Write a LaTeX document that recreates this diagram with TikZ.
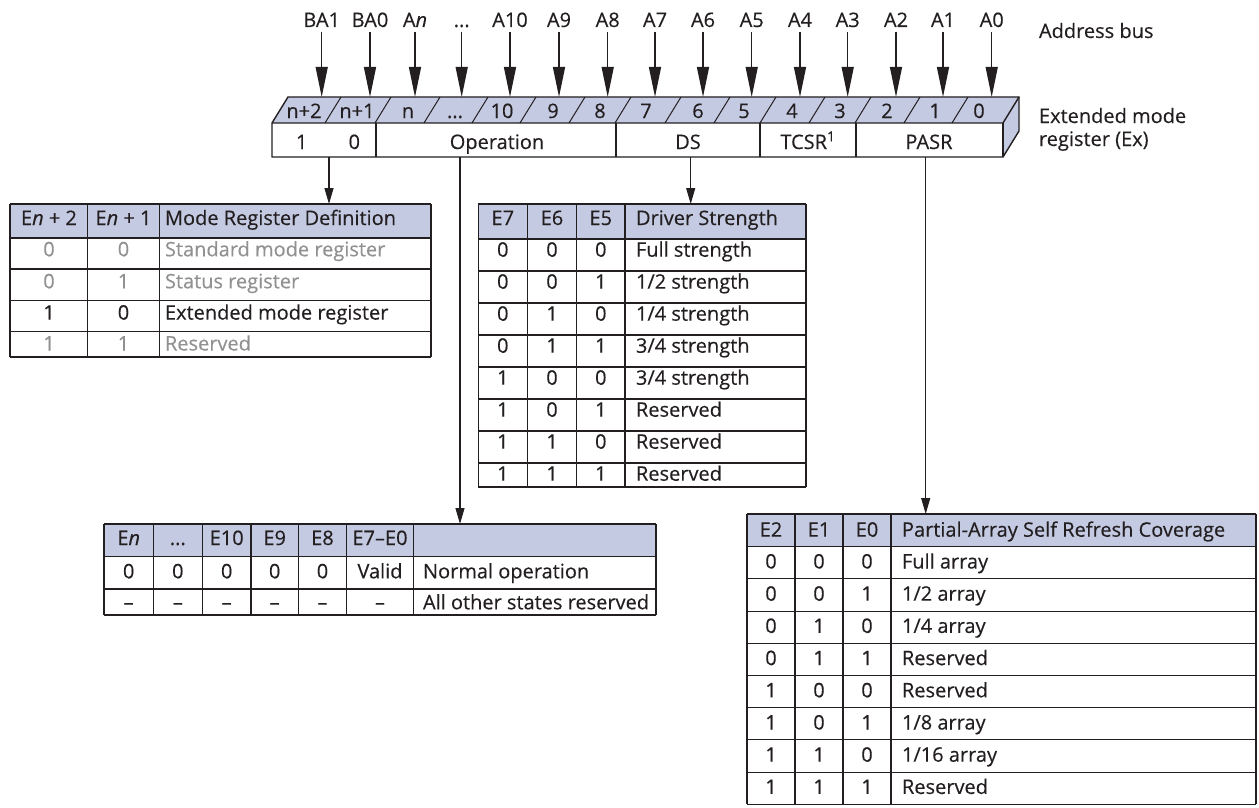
\documentclass[tikz,border=0pt]{standalone}
\usepackage{fontspec}
\setmainfont{Open Sans}[FakeBold=0.3]
\usetikzlibrary{arrows.meta}
\definecolor{hdr}{RGB}{196,202,226}
\definecolor{ink}{RGB}{35,31,32}
\definecolor{gtxt}{RGB}{145,145,145}
\begin{document}
\begin{tikzpicture}[x=1pt,y=-1pt,
  every node/.style={font=\fontsize{20}{24}\selectfont, inner sep=0pt, outer sep=0pt, text=ink},
  ctr/.style={anchor=base},
  lft/.style={anchor=base west},
  gry/.style={text=gtxt},
  bus/.style={draw=ink, line width=1.3pt, -{Triangle[length=30pt,width=12pt]}},
  dn/.style={draw=ink, line width=1.1pt, -{Triangle[length=16pt,width=9pt]}},
  tl/.style={draw=ink, line width=1.1pt},
  rg/.style={draw=ink, line width=1.4pt, line join=miter},
  sl/.style={draw=ink, line width=1pt}]
\useasboundingbox (0,0) rectangle (1259,808);

% ---------- address bus labels ----------
\node[ctr] (b0) at (321.7,27) {BA1};
\node[ctr] (b1) at (370,27) {BA0};
\node[ctr] (b2) at (415,27) {A\textit{n}};
\node[ctr] (b3) at (461.7,27) {...};
\node[ctr] (b4) at (510,27) {A10};
\node[ctr] (b5) at (559,27) {A9};
\node[ctr] (b6) at (607.7,27) {A8};
\node[ctr] (b7) at (655,27) {A7};
\node[ctr] (b8) at (703,27) {A6};
\node[ctr] (b9) at (751.7,27) {A5};
\node[ctr] (b10) at (800,27) {A4};
\node[ctr] (b11) at (847.7,27) {A3};
\node[ctr] (b12) at (896,27) {A2};
\node[ctr] (b13) at (943,27) {A1};
\node[ctr] (b14) at (991.7,27) {A0};
\node[lft] (abus) at (1039,38) {Address bus};
\node[lft] (emr1) at (1039,123) {Extended mode};
\node[lft] (emr2) at (1039,146) {register (Ex)};

\coordinate (regtop) at (0,97);

% ---------- register ----------
\fill[hdr] (272,123) -- (288,97) -- (1019,97) -- (1003,123) -- cycle;
\fill[hdr] (1003,123) -- (1019,97) -- (1019,131) -- (1003,157) -- cycle;
\fill[white] (272,123) rectangle (1003,157);
\foreach \b in {325,375,424,472,520,569,615,665,714,760,809,855,904,952}
  \draw[sl] (\b,123) -- (\b+16,97);
\foreach \b in {376,616,760,856}
  \draw[rg] (\b,123) -- (\b,157);
\draw[rg] (272,157) -- (272,123) -- (288,97) -- (1019,97) -- (1019,131) -- (1003,157) -- cycle;
\draw[rg] (272,123) -- (1003,123) -- (1019,97);
\draw[rg] (1003,123) -- (1003,157);

\foreach \i in {0,...,14}
  \draw[bus] ([yshift=-5pt]b\i.base) -- (b\i.base |- regtop);

% band labels
\node[ctr] (k0) at (304,118) {n+2};
\node[ctr] (k1) at (357,118) {n+1};
\node[ctr] (k2) at (408,118) {n};
\node[ctr] (k3) at (455,118) {...};
\node[ctr] (k4) at (502,118) {10};
\node[ctr] (k5) at (553,118) {9};
\node[ctr] (k6) at (600,118) {8};
\node[ctr] (k7) at (646,118) {7};
\node[ctr] (k8) at (698,118) {6};
\node[ctr] (k9) at (744,118) {5};
\node[ctr] (k10) at (792,118) {4};
\node[ctr] (k11) at (840,118) {3};
\node[ctr] (k12) at (887,118) {2};
\node[ctr] (k13) at (935,118) {1};
\node[ctr] (k14) at (979,118) {0};

% front labels
\node[ctr] (f1) at (301.7,149) {1};
\node[ctr] (f0) at (354.3,149) {0};
\node[ctr] (fop) at (497,149) {Operation};
\node[ctr] (fds) at (688,149) {DS};
\node[ctr] (ftc) at (808,149) {TCSR\textsuperscript{1}};
\node[ctr] (fpa) at (929,149) {PASR};

% connector start / end points
\coordinate (oMR) at (329,157);
\coordinate (oOP) at (460,157);
\coordinate (oDS) at (690.7,157);
\coordinate (oPA) at (925.7,157);
\coordinate (tMR) at (329,204);
\coordinate (tOP) at (460,524);
\coordinate (tDS) at (690.7,204);
\coordinate (tPA) at (925.7,514);
\draw[dn] (oMR) -- (tMR);
\draw[dn] (oOP) -- (tOP);
\draw[dn] (oDS) -- (tDS);
\draw[dn] (oPA) -- (tPA);

% ---------- table 1: mode register definition ----------
\fill[hdr] (10,204) rectangle (431,238);
\foreach \y in {204,238,269,300.5,331.5,357} \draw[tl] (10,\y) -- (431,\y);
\foreach \x in {10,87.7,159.3,431} \draw[tl] (\x,204) -- (\x,357);
\draw[ink, line width=1.8pt] (10,300.5) -- (431,300.5) (10,331.5) -- (431,331.5);
\node[ctr] (m0a) at (49,225) {E\textit{n} + 2};
\node[ctr] (m0b) at (123.5,225) {E\textit{n} + 1};
\node[lft] (m0c) at (165,225) {Mode Register Definition};
\node[ctr,gry] (m1a) at (49,256.3) {0};
\node[ctr,gry] (m1b) at (123.5,256.3) {0};
\node[lft,gry] (m1c) at (165,256.3) {Standard mode register};
\node[ctr,gry] (m2a) at (49,288.3) {0};
\node[ctr,gry] (m2b) at (123.5,288.3) {1};
\node[lft,gry] (m2c) at (165,288.3) {Status register};
\node[ctr] (m3a) at (49,319.6) {1};
\node[ctr] (m3b) at (123.5,319.6) {0};
\node[lft] (m3c) at (165,319.6) {Extended mode register};
\node[ctr,gry] (m4a) at (49,350.5) {1};
\node[ctr,gry] (m4b) at (123.5,350.5) {1};
\node[lft,gry] (m4c) at (165,350.5) {Reserved};

% ---------- table 2: driver strength ----------
\fill[hdr] (478.3,204) rectangle (806,239);
\foreach \y in {204,239,271,303,335,367,399,431,463,487} \draw[tl] (478.3,\y) -- (806,\y);
\foreach \x in {478.3,527.3,576.7,625,806} \draw[tl] (\x,204) -- (\x,487);
\node[ctr] (d0a) at (502.8,225) {E7};
\node[ctr] (d0b) at (552,225) {E6};
\node[ctr] (d0c) at (600.8,225) {E5};
\node[lft] (d0t) at (636,225) {Driver Strength};
\foreach \a/\b/\c/\t [count=\i from 0] in {0/0/0/{Full strength},0/0/1/{1/2 strength},0/1/0/{1/4 strength},0/1/1/{3/4 strength},1/0/0/{3/4 strength},1/0/1/{Reserved},1/1/0/{Reserved},1/1/1/{Reserved}}{
  \node[ctr] (da\i) at (502.8,256.7+32*\i) {\a};
  \node[ctr] (db\i) at (552,256.7+32*\i) {\b};
  \node[ctr] (dc\i) at (600.8,256.7+32*\i) {\c};
  \node[lft] (dt\i) at (636,256.7+32*\i) {\t};
}

% ---------- table 3: operation ----------
\fill[hdr] (104,524) rectangle (656,556.7);
\foreach \y in {524,556.7,589,615} \draw[tl] (104,\y) -- (656,\y);
\foreach \x in {104,153.3,202.3,251,298.3,346.7,413.3,656} \draw[tl] (\x,524) -- (\x,615);
\node[ctr] (o0a) at (128.7,545) {E\textit{n}};
\node[ctr] (o0b) at (177.8,545) {...};
\node[ctr] (o0c) at (226.7,545) {E10};
\node[ctr] (o0d) at (274.7,545) {E9};
\node[ctr] (o0e) at (322.5,545) {E8};
\node[ctr] (o0f) at (380,545) {E7\textendash E0};
\node[ctr] (o1a) at (128.7,578.3) {0};
\node[ctr] (o1b) at (177.8,578.3) {0};
\node[ctr] (o1c) at (226.7,578.3) {0};
\node[ctr] (o1d) at (274.7,578.3) {0};
\node[ctr] (o1e) at (322.5,578.3) {0};
\node[ctr] (o1f) at (380,578.3) {Valid};
\node[lft] (o1t) at (423,578.3) {Normal operation};
\node[ctr] (o2a) at (128.7,609.3) {\textendash};
\node[ctr] (o2b) at (177.8,609.3) {\textendash};
\node[ctr] (o2c) at (226.7,609.3) {\textendash};
\node[ctr] (o2d) at (274.7,609.3) {\textendash};
\node[ctr] (o2e) at (322.5,609.3) {\textendash};
\node[ctr] (o2f) at (380,609.3) {\textendash};
\node[lft] (o2t) at (423,609.3) {All other states reserved};

% ---------- table 4: PASR ----------
\fill[hdr] (747,514) rectangle (1256,546.7);
\draw[tl] (747,514) -- (1256,514);
\foreach \k in {0,...,8} \draw[tl] (747,546.7+32.2*\k) -- (1256,546.7+32.2*\k);
\foreach \x in {747,795,843,891,1256} \draw[tl] (\x,514) -- (\x,804.3);
\node[ctr] (p0a) at (771,536.7) {E2};
\node[ctr] (p0b) at (819,536.7) {E1};
\node[ctr] (p0c) at (867,536.7) {E0};
\node[lft] (p0t) at (902,536.7) {Partial-Array Self Refresh Coverage};
\foreach \a/\b/\c/\t [count=\i from 0] in {0/0/0/{Full array},0/0/1/{1/2 array},0/1/0/{1/4 array},0/1/1/{Reserved},1/0/0/{Reserved},1/0/1/{1/8 array},1/1/0/{1/16 array},1/1/1/{Reserved}}{
  \node[ctr] (pa\i) at (771,568.5+32.2*\i) {\a};
  \node[ctr] (pb\i) at (819,568.5+32.2*\i) {\b};
  \node[ctr] (pc\i) at (867,568.5+32.2*\i) {\c};
  \node[lft] (pt\i) at (902,568.5+32.2*\i) {\t};
}
\end{tikzpicture}
\end{document}
